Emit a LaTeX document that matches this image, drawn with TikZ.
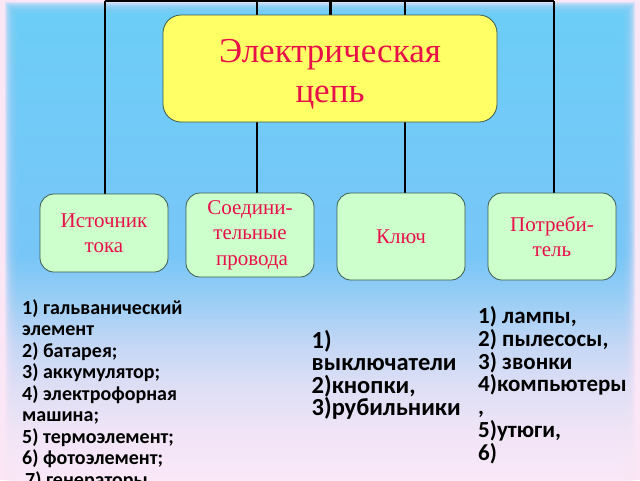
\documentclass[tikz,border=0pt]{standalone}
\usepackage{fontspec}
\setmainfont{Liberation Serif}
\newfontfamily\listfont{Carlito}
\definecolor{bgframe}{RGB}{250,230,245}
\definecolor{bgA}{RGB}{108,205,246}
\definecolor{bgB}{RGB}{120,198,248}
\definecolor{bgC}{RGB}{150,205,245}
\definecolor{bgD}{RGB}{195,215,245}
\definecolor{bgE}{RGB}{220,222,245}
\definecolor{bgF}{RGB}{240,228,246}
\definecolor{bgG}{RGB}{250,232,248}
\definecolor{txtred}{RGB}{232,16,72}
\definecolor{boxyellow}{RGB}{255,255,102}
\definecolor{boxgreen}{RGB}{204,255,204}
\definecolor{boxedge}{RGB}{60,90,80}
\pgfdeclareverticalshading{bgsh}{100bp}{color(0bp)=(bgG); color(25bp)=(bgG); color(30.2bp)=(bgF); color(35.4bp)=(bgE); color(39.6bp)=(bgD); color(44.8bp)=(bgC); color(49bp)=(bgB); color(75bp)=(bgA); color(100bp)=(bgA)}
\pgfdeclarelayer{back}
\pgfdeclarelayer{mid}
\pgfsetlayers{back,mid,main}
\tikzset{
  titlebox/.style={draw=boxedge, line width=0.8pt, fill=boxyellow, rounded corners=18pt,
    inner sep=0pt, align=center, text=txtred, font=\fontsize{35}{40.5}\selectfont,
    minimum width=334pt, minimum height=107pt},
  partbox/.style={draw=boxedge, line width=0.8pt, fill=boxgreen, rounded corners=14pt,
    inner sep=0pt, align=center, text=txtred, font=\fontsize{21}{25.5}\selectfont,
    minimum width=128pt},
  wire/.style={draw=black, line width=1.6pt},
  mainwire/.style={draw=black, line width=3pt},
  listtxt/.style={inner sep=0pt, anchor=base west, align=left, text=black},
}
\begin{document}
\begin{tikzpicture}[x=1pt,y=-1pt]
\useasboundingbox (0,0) rectangle (640,480);
\clip (0,0) rectangle (640,480);
\begin{pgfonlayer}{back}
  \fill[bgframe] (0,0) rectangle (640,480);
  \foreach \i in {0,...,11} {
    \shade[shading=bgsh, opacity=0.22] ({5+\i},{2+\i}) rectangle ({635-\i},480);
  }
  \shade[shading=bgsh] (17,14) rectangle (623,480);
\end{pgfonlayer}

\node[titlebox] (title) at (330,68.5) {\rule{0pt}{34.5pt}Электрическая\\цепь};

\node[partbox, minimum height=78pt] (g1) at (104,233) {Источник\\тока};
\node[partbox, minimum height=84pt] (g2) at (250,235) {Соедини-\\тельные\\\hspace{4pt}провода};
\node[partbox, minimum height=87pt] (g3) at (401,236.5) {Ключ};
\node[partbox, minimum height=87pt] (g4) at (552,236.5) {Потреби-\\тель};

\coordinate (t1) at (105,1);
\coordinate (t2) at (257,1);
\coordinate (t0) at (330,1);
\coordinate (t3) at (405,1);
\coordinate (t4) at (554,1);

\begin{pgfonlayer}{mid}
  \draw[wire] (t1) -- (t4);
  \draw[wire] (t1) -- (t1 |- g1.north);
  \draw[wire] (t2) -- (t2 |- g2.north);
  \draw[wire] (t3) -- (t3 |- g3.north);
  \draw[wire] (t4) -- (t4 |- g4.north);
  \draw[mainwire] (t0) -- (title.north);
\end{pgfonlayer}

% base anchor of a multi-line node is the baseline of its last line
\node[listtxt, font=\listfont\bfseries\fontsize{20}{21.5}\selectfont] (l1) at (22,486)
  {1) гальванический\\элемент\\2) батарея;\\3) аккумулятор;\\4) электрофорная\\машина;\\5) термоэлемент;\\6) фотоэлемент;\\\hspace{3pt}7) генераторы};
\node[listtxt, font=\listfont\bfseries\fontsize{24.5}{22.3}\selectfont] (l2) at (311.5,415.4)
  {1)\\выключатели\\2)кнопки,\\3)рубильники};
\node[listtxt, font=\listfont\bfseries\fontsize{23}{22.75}\selectfont] (l3) at (478,460)
  {1) лампы,\\2) пылесосы,\\3) звонки\\4)компьютеры\\,\\5)утюги,\\6)};
\end{tikzpicture}
\end{document}
